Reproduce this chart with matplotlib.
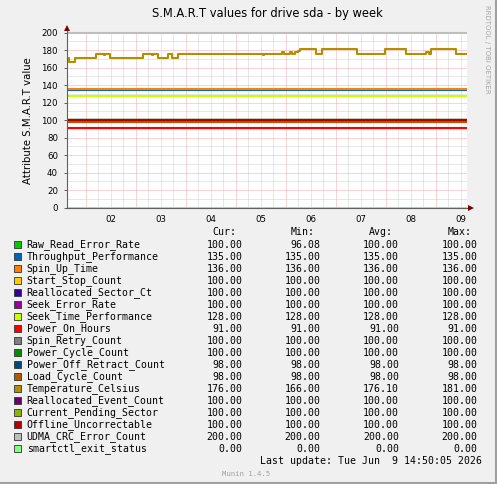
import matplotlib
matplotlib.use("Agg")
import matplotlib.pyplot as plt
from matplotlib.patches import Rectangle
from matplotlib.lines import Line2D
import numpy as np

W, H = 497, 484

# Legend data
names = ["Raw_Read_Error_Rate", "Throughput_Performance", "Spin_Up_Time",
         "Start_Stop_Count", "Reallocated_Sector_Ct", "Seek_Error_Rate",
         "Seek_Time_Performance", "Power_On_Hours", "Spin_Retry_Count",
         "Power_Cycle_Count", "Power_Off_Retract_Count", "Load_Cycle_Count",
         "Temperature_Celsius", "Reallocated_Event_Count", "Current_Pending_Sector",
         "Offline_Uncorrectable", "UDMA_CRC_Error_Count", "smartctl_exit_status"]
colors = ["#00CC00", "#0066B3", "#FF8000", "#FFCC00", "#330099", "#990099",
          "#CCFF00", "#FF0000", "#808080", "#008F00", "#00487D", "#B35A00",
          "#B38F00", "#6B006B", "#8FB300", "#B30000", "#BEBEBE", "#80FF80"]
cur_vals = [100, 135, 136, 100, 100, 100, 128, 91, 100, 100, 98, 98, 176, 100, 100, 100, 200, 0]
min_vals = [96.08, 135, 136, 100, 100, 100, 128, 91, 100, 100, 98, 98, 166, 100, 100, 100, 200, 0]
avg_vals = [100, 135, 136, 100, 100, 100, 128, 91, 100, 100, 98, 98, 176.10, 100, 100, 100, 200, 0]
max_vals = [100, 135, 136, 100, 100, 100, 128, 91, 100, 100, 98, 98, 181, 100, 100, 100, 200, 0]

# time axis in days of June (2.0 = Jun 2 00:00)
t_start, t_end = 1.626, 9.626
day_labels = ["02", "03", "04", "05", "06", "07", "08", "09"]
last_update = "Last update: Tue Jun  9 14:50:05 2026"

# Temperature_Celsius steps (day, value)
temp_days = [1.626, 1.656, 1.786, 2.206, 2.366, 2.386, 2.486, 3.146, 3.326, 3.346,
             3.446, 3.646, 3.726, 3.846, 5.546, 5.566, 5.926, 5.966, 6.086, 6.126,
             6.186, 6.246, 6.286, 6.606, 6.726, 7.426, 7.986, 8.406, 8.806, 8.866,
             8.906, 9.406]
temp_vals = [171, 166, 171, 176, 174, 176, 171, 176, 174, 176,
             171, 176, 171, 176, 175, 176, 178, 176, 178, 176,
             178, 179, 181, 176, 181, 176, 181, 176, 178, 176,
             181, 176]


def fx(x):
    return x / W


def fy(y):
    return 1 - y / H


fig = plt.figure(figsize=(W / 100, H / 100), dpi=100, facecolor="#F0F0F0")
ax = fig.add_axes([fx(67), fy(207.7), 400 / W, 175 / H], facecolor="white")

# grid: gray every 6h / 10 units, red every day / 20 units
minor_c, major_c = "#D0D0D0", "#F2AAAA"
dot = (0, (1, 1))
for d in np.arange(2, 10, 0.25):
    if d < t_end:
        c = major_c if d == int(d) else minor_c
        ax.axvline(d, color=c, lw=0.72, ls=dot, zorder=0.5)
for v in range(10, 201, 10):
    c = major_c if v % 20 == 0 else minor_c
    ax.axhline(v, color=c, lw=0.72, ls=dot, zorder=0.5)

# series
for i, name in enumerate(names):
    if name == "Temperature_Celsius":
        xs = temp_days + [t_end]
        ys = temp_vals + [temp_vals[-1]]
    else:
        xs = [t_start, t_end]
        ys = [avg_vals[i], avg_vals[i]]
    ax.step(xs, ys, where="post", color=colors[i], lw=1.5, zorder=2 + i * 0.01,
            clip_on=False, solid_capstyle="butt")

ax.set_xlim(t_start, t_end)
ax.set_ylim(0, 200)
ax.set_yticks(range(0, 201, 20))
ax.set_xticks([k + 0.5 for k in range(2, 10)])
ax.set_xticklabels(day_labels)
ax.tick_params(axis="y", length=2, width=0.7, color="#606060", pad=4.5, labelsize=6.2)
ax.tick_params(axis="x", length=0, pad=5, labelsize=6.2)
for s in ["top", "right", "left", "bottom"]:
    ax.spines[s].set_visible(False)

# axes with arrows
ax.plot([0, 0], [0, 1.015], transform=ax.transAxes, color="#606060", lw=0.8,
        clip_on=False, zorder=5)
ax.plot([0, 1.0025], [0, 0], transform=ax.transAxes, color="#606060", lw=0.8,
        clip_on=False, zorder=5)
ax.plot([0], [1.025], transform=ax.transAxes, marker="^", ms=4, color="#7F0000",
        clip_on=False, zorder=6, mew=0)
ax.plot([1.01], [0], transform=ax.transAxes, marker=">", ms=4, color="#7F0000",
        clip_on=False, zorder=6, mew=0)

ax.set_ylabel("Attribute S.M.A.R.T value", fontsize=7.3, labelpad=6)

fig.text(fx(267), fy(17.3), "S.M.A.R.T values for drive sda - by week",
         ha="center", va="baseline", fontsize=8.3)
fig.text(fx(487.5), fy(5), "RRDTOOL / TOBI OETIKER", rotation=270, ha="center",
         va="top", fontsize=5, color="#A8A8A8")

# legend
mono = "DejaVu Sans Mono"
fs = 7.1
col_ends = [242.3, 320.7, 399, 477.3]
headers = ["Cur:", "Min:", "Avg:", "Max:"]
for hdr, xe in zip(headers, col_ends):
    fig.text(fx(xe - 6), fy(235.5), hdr, ha="right", va="baseline",
             family=mono, fontsize=fs)
for i, name in enumerate(names):
    yb = 247.5 + 12 * i
    fig.patches.append(Rectangle((fx(13.5), fy(yb + 0.8)), 7 / W, 7 / H,
                                 transform=fig.transFigure, facecolor=colors[i],
                                 edgecolor="#333333", lw=0.6))
    fig.text(fx(26.7), fy(yb), name, ha="left", va="baseline", family=mono, fontsize=fs)
    for vals, xe in zip([cur_vals, min_vals, avg_vals, max_vals], col_ends):
        fig.text(fx(xe), fy(yb), "%.2f" % vals[i], ha="right", va="baseline",
                 family=mono, fontsize=fs)

fig.text(fx(482.3), fy(463.5), last_update, ha="right", va="baseline",
         family=mono, fontsize=fs)
fig.text(fx(246), fy(475.7), "Munin 1.4.5", ha="center", va="baseline",
         family=mono, fontsize=5.2, color="#A0A0A0")

# frame shading on right and bottom
fig.lines.append(Line2D([fx(495.5), fx(495.5)], [0, 1], transform=fig.transFigure,
                        color="#A0A0A0", lw=1.5))
fig.lines.append(Line2D([0, 1], [fy(482.5), fy(482.5)], transform=fig.transFigure,
                        color="#A0A0A0", lw=1.5))

fig.savefig("out.png", dpi=100, facecolor=fig.get_facecolor())
